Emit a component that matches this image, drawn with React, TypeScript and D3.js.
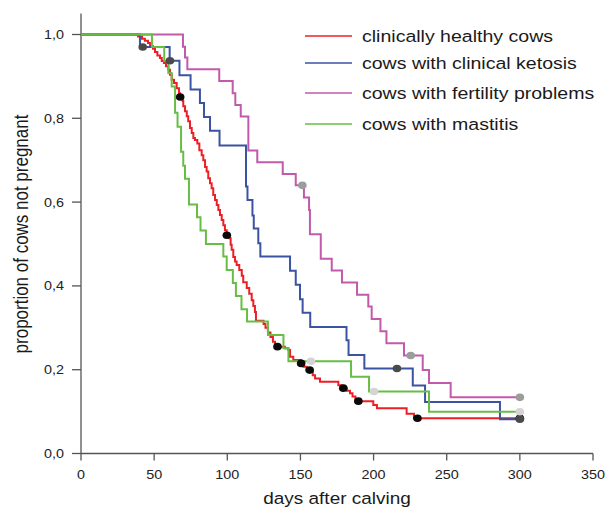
import React from "react";
import * as d3 from "d3";

// ---------- data ----------
const seriesNames = [
  "clinically healthy cows",
  "cows with clinical ketosis",
  "cows with fertility problems",
  "cows with mastitis",
];

// clinically healthy cows: [day, proportion not pregnant] after each drop
const healthySteps: [number, number][] = [
  [39.0, 0.995], [41.7, 0.99], [43.7, 0.985], [45.8, 0.98], [47.2, 0.972], [49.2, 0.966],
  [50.6, 0.958], [52.2, 0.95], [54.0, 0.944], [55.2, 0.937], [56.7, 0.932], [58.1, 0.924],
  [59.7, 0.916], [60.8, 0.904], [62.0, 0.892], [63.6, 0.884], [65.4, 0.872], [67.0, 0.86],
  [67.7, 0.851], [69.5, 0.841], [69.9, 0.829], [71.1, 0.817], [72.3, 0.805], [73.3, 0.793],
  [74.5, 0.777], [75.7, 0.765], [76.8, 0.753], [77.9, 0.748], [79.5, 0.74], [80.9, 0.724],
  [82.5, 0.712], [83.6, 0.7], [84.8, 0.684], [85.9, 0.673], [87.0, 0.657], [88.2, 0.645],
  [89.3, 0.633], [90.4, 0.617], [91.6, 0.605], [92.8, 0.593], [93.9, 0.581], [95.0, 0.569],
  [96.2, 0.557], [97.3, 0.545], [98.4, 0.533], [99.6, 0.521], [101.4, 0.514], [102.3, 0.498],
  [103.0, 0.486], [104.1, 0.469], [105.3, 0.458], [106.4, 0.45], [108.2, 0.438], [109.9, 0.424],
  [110.9, 0.409], [113.3, 0.395], [115.0, 0.381], [116.7, 0.366], [117.8, 0.352], [118.9, 0.338],
  [119.6, 0.317], [124.8, 0.309], [126.1, 0.3], [127.8, 0.289], [129.5, 0.278], [131.2, 0.267],
  [132.6, 0.259], [134.0, 0.255], [139.4, 0.251], [141.7, 0.247], [142.9, 0.231], [145.1, 0.223],
  [150.4, 0.215], [152.0, 0.207], [154.3, 0.199], [158.4, 0.187], [160.0, 0.179], [163.4, 0.171],
  [175.9, 0.163], [178.2, 0.156], [181.6, 0.15], [183.9, 0.144], [185.6, 0.136], [187.6, 0.125],
  [199.8, 0.116], [202.3, 0.108], [222.6, 0.095], [227.6, 0.084],
];
const healthyCensored = [67.8, 99.7, 134.3, 150.5, 156.3, 179.3, 189.6, 230.0, 300];

const ketosisSteps: [number, number][] = [
  [40.3, 0.97], [60.6, 0.9375], [67.3, 0.903], [74.9, 0.869], [81.3, 0.8365], [84.1, 0.803],
  [88.2, 0.77], [94.7, 0.735], [112.8, 0.637], [113.8, 0.605], [117.2, 0.568], [118.1, 0.537],
  [121.2, 0.502], [122.6, 0.47], [142.9, 0.436], [146.8, 0.403], [149.7, 0.368], [151.5, 0.336],
  [156.7, 0.302], [181.5, 0.27], [182.9, 0.235], [193.7, 0.203], [226.8, 0.162], [235.2, 0.123],
  [286.4, 0.082],
];
const ketosisCensored = [42.2, 60.8, 216.0, 300];

const fertilitySteps: [number, number][] = [
  [69.7, 0.971], [71.1, 0.945], [72.7, 0.917], [94.5, 0.889], [103.7, 0.86], [105.5, 0.832],
  [109.2, 0.804], [114.4, 0.723], [120.5, 0.695], [137.9, 0.667], [146.8, 0.64], [152.4, 0.611],
  [155.9, 0.581], [156.5, 0.523], [163.9, 0.465], [171.4, 0.437], [178.4, 0.408], [188.7, 0.379],
  [196.4, 0.351], [198.7, 0.321], [204.7, 0.292], [208.8, 0.263], [220.8, 0.234], [233.6, 0.199],
  [237.9, 0.168], [252.7, 0.134],
];
const fertilityCensored = [151.3, 225.4, 300];

const mastitisSteps: [number, number][] = [
  [48.5, 0.97], [56.9, 0.937], [59.7, 0.908], [62.0, 0.876], [64.3, 0.813], [66.0, 0.78],
  [68.4, 0.72], [69.9, 0.687], [71.1, 0.656], [73.8, 0.594], [79.3, 0.564], [81.7, 0.532],
  [85.4, 0.5], [97.3, 0.47], [99.6, 0.438], [103.8, 0.407], [105.9, 0.376], [109.7, 0.344],
  [113.5, 0.315], [127.8, 0.283], [138.4, 0.251], [141.8, 0.22], [184.6, 0.183], [196.9, 0.148],
  [237.9, 0.0998],
];
const mastitisCensored = [157.2, 200.3, 300];

const followUpEnd = 300;
const xTicks = [0, 50, 100, 150, 200, 250, 300, 350];
const yTicks = [0, 0.2, 0.4, 0.6, 0.8, 1.0];
const xTitle = "days after calving";
const yTitle = "proportion of cows not pregnant";

// ---------- styling ----------
const W = 606;
const H = 512;
const FONT = "'Liberation Sans', Arial, Helvetica, sans-serif";
const SX = 1.15; // horizontal stretch of the reference's text

const x = d3.scaleLinear().domain([0, 350]).range([81, 593]);
const y = d3.scaleLinear().domain([0, 1]).range([453.5, 34.5]);

const series = [
  { name: seriesNames[0], steps: healthySteps, censored: healthyCensored, color: "#ec1f27", dot: "#0a0a0a" },
  { name: seriesNames[1], steps: ketosisSteps, censored: ketosisCensored, color: "#3a53a2", dot: "#4a4a4a" },
  { name: seriesNames[2], steps: fertilitySteps, censored: fertilityCensored, color: "#c25aab", dot: "#9c9c9c" },
  { name: seriesNames[3], steps: mastitisSteps, censored: mastitisCensored, color: "#68bd45", dot: "#d4d4d4" },
];
const legendY = [36, 63, 93, 124];

function survAt(steps: [number, number][], day: number) {
  let s = 1;
  for (const [d, v] of steps) if (d <= day) s = v;
  return s;
}

const stepLine = d3
  .line<[number, number]>()
  .x((d) => x(d[0]))
  .y((d) => y(d[1]))
  .curve(d3.curveStepAfter);

function HText(props: {
  x: number;
  y: number;
  anchor?: "start" | "middle" | "end";
  size: number;
  fill?: string;
  children: React.ReactNode;
}) {
  return (
    <text
      transform={`translate(${props.x},${props.y}) scale(${SX},1)`}
      textAnchor={props.anchor || "start"}
      fontSize={props.size}
      fontFamily={FONT}
      fill={props.fill || "#1a1a1a"}
    >
      {props.children}
    </text>
  );
}

export default function App() {
  const axisColor = "#555";
  return (
    <svg
      width={W}
      height={H}
      style={{ position: "absolute", left: 0, top: 0, background: "#fff" }}
    >
      {/* axes */}
      <line x1={x(0)} x2={x(0)} y1={y(1.05)} y2={y(0)} stroke={axisColor} strokeWidth={1.3} />
      <line x1={x(0)} x2={x(350)} y1={y(0)} y2={y(0)} stroke={axisColor} strokeWidth={1.3} />
      {yTicks.map((t) => (
        <g key={"y" + t}>
          <line x1={x(0) - 9} x2={x(0)} y1={y(t)} y2={y(t)} stroke={axisColor} strokeWidth={1.3} />
          <HText x={64} y={y(t) + 4.5} anchor="end" size={12.5} fill="#222">
            {d3.format(".1f")(t).replace(".", ",")}
          </HText>
        </g>
      ))}
      {xTicks.map((t) => (
        <g key={"x" + t}>
          <line x1={x(t)} x2={x(t)} y1={y(0)} y2={y(0) + 7} stroke={axisColor} strokeWidth={1.3} />
          <HText x={x(t)} y={479} anchor="middle" size={12.5} fill="#222">
            {t}
          </HText>
        </g>
      ))}
      <HText x={337} y={504} anchor="middle" size={16.5}>
        {xTitle}
      </HText>
      <text
        transform={`translate(28,234) rotate(-90) scale(1,${SX})`}
        textAnchor="middle"
        fontSize={17}
        fontFamily={FONT}
        fill="#1a1a1a"
      >
        {yTitle}
      </text>

      {/* curves */}
      {series.map((s) => {
        const pts: [number, number][] = [[0, 1], ...s.steps];
        pts.push([followUpEnd, s.steps[s.steps.length - 1][1]]);
        return (
          <path
            key={s.name}
            d={stepLine(pts) || ""}
            fill="none"
            stroke={s.color}
            strokeWidth={2}
            strokeLinejoin="miter"
          />
        );
      })}

      {/* censored marks */}
      {series.map((s) =>
        s.censored.map((c, i) => (
          <ellipse
            key={s.name + i}
            cx={x(c)}
            cy={y(survAt(s.steps, c))}
            rx={4.3}
            ry={3.8}
            fill={s.dot}
          />
        ))
      )}

      {/* legend */}
      {series.map((s, i) => (
        <g key={"lg" + i}>
          <line x1={305} x2={352} y1={legendY[i]} y2={legendY[i]} stroke={s.color} strokeWidth={1.5} />
          <HText x={362} y={legendY[i] + 6} size={17}>
            {s.name}
          </HText>
        </g>
      ))}
    </svg>
  );
}
